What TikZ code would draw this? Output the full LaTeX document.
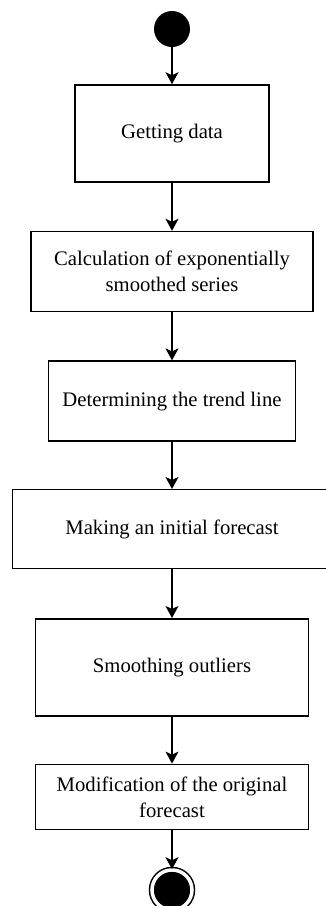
\documentclass[tikz,border=0pt]{standalone}
\usepackage{fontspec}
\setmainfont{Liberation Serif}
\usepackage{tikz}
\usetikzlibrary{arrows.meta, positioning}
\tikzstyle{activity} = [rectangle, minimum height=80pt, align=center, inner sep=4pt, draw=black, line width=1.6pt, fill=white, font=\fontsize{20.7}{26}\selectfont]
\tikzstyle{arrow} = [line width=1.4pt, -{Stealth[length=12pt, width=13pt, inset=3pt]}]
\tikzstyle{startnode} = [circle, fill=black, minimum size=36pt, inner sep=0pt]
\tikzstyle{endnode} = [circle, draw=black, fill=black, line width=1.5pt, double=white, double distance=3.5pt, minimum size=40pt, inner sep=0pt]

\begin{document}
\begin{tikzpicture}[node distance=48pt]
  \useasboundingbox (0pt,0pt) rectangle (326pt,-906pt);

  % Bắt đầu
  \node[startnode] (start) at (172pt,-29pt) {};

  % Các bước
  \node[activity, minimum width=194pt, minimum height=97pt, below=37pt of start] (getdata) {Getting data};
  \node[activity, minimum width=282pt, below=48pt of getdata] (smoothed) {Calculation of exponentially\\smoothed series};
  \node[activity, minimum width=247pt, below=48pt of smoothed] (trend) {Determining the trend line};
  \node[activity, minimum width=320pt, minimum height=79pt, line width=1pt, below=47pt of trend] (initial) {Making an initial forecast};
  \node[activity, minimum width=273pt, minimum height=97pt, below=49pt of initial] (outliers) {Smoothing outliers};
  \node[activity, minimum width=273pt, minimum height=65pt, below=47pt of outliers] (modify) {Modification of the original\\forecast};

  % Kết thúc
  \node[endnode, below=39pt of modify] (end) {};

  % Mũi tên dọc
  \draw[arrow] (start.south) -- (getdata.north);
  \draw[arrow] (getdata.south) -- (smoothed.north);
  \draw[arrow] (smoothed.south) -- (trend.north);
  \draw[arrow] (trend.south) -- (initial.north);
  \draw[arrow] (initial.south) -- (outliers.north);
  \draw[arrow] (outliers.south) -- (modify.north);
  \draw[arrow] (modify.south) -- (end.north);
\end{tikzpicture}
\end{document}
